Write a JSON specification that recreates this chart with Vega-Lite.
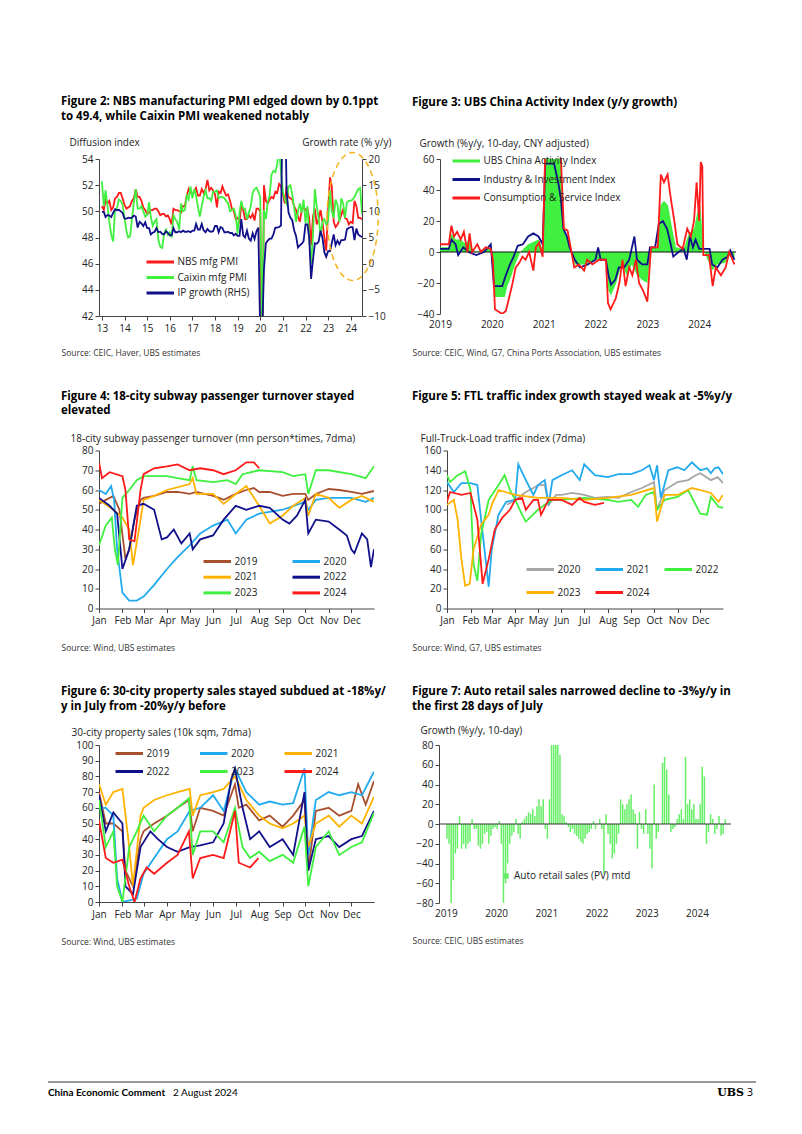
{
"$schema": "https://vega.github.io/schema/vega-lite/v6.json",
"background": "white",
"padding": {"left": 47, "top": 96, "right": 5, "bottom": 5},
"config": {
 "font": "Open Sans",
 "view": {"stroke": null},
 "title": {"anchor": "start", "frame": "group", "fontSize": 11.5, "fontWeight": "bold", "color": "#000000", "lineHeight": 14.5, "font": "Open Sans"},
 "axis": {"labelFontSize": 10, "labelColor": "#222222", "domainColor": "#444444", "tickColor": "#444444", "grid": false, "tickSize": 4, "titleFontWeight": "normal", "titleFontSize": 10, "titleColor": "#222222", "labelPadding": 2, "labelOverlap": false},
 "axisX": {"titleFontSize": 8.5, "titleColor": "#333333", "titleAlign": "left", "titleBaseline": "alphabetic", "labelFlush": false, "labelPadding": 3},
 "axisY": {"titleAngle": 0, "titleAlign": "left", "titleBaseline": "alphabetic"},
 "legend": {"labelFontSize": 10, "labelColor": "#222222", "orient": "none"}
},
"datasets": {
"pmi": [
{"month":"2013-01","nbs":50.4,"caixin":52.3,"ip":9.9},{"month":"2013-02","nbs":50.1,"caixin":50.4,"ip":9.9},{"month":"2013-03","nbs":50.9,"caixin":51.6,"ip":8.9},{"month":"2013-04","nbs":50.6,"caixin":50.4,"ip":9.3},{"month":"2013-05","nbs":50.8,"caixin":49.2,"ip":9.2},{"month":"2013-06","nbs":50.1,"caixin":48.2,"ip":8.9},{"month":"2013-07","nbs":50.3,"caixin":47.7,"ip":9.7},{"month":"2013-08","nbs":51.0,"caixin":50.1,"ip":10.4},{"month":"2013-09","nbs":51.1,"caixin":50.2,"ip":10.2},{"month":"2013-10","nbs":51.4,"caixin":50.9,"ip":10.3},{"month":"2013-11","nbs":51.4,"caixin":50.8,"ip":10.0},{"month":"2013-12","nbs":51.0,"caixin":50.5,"ip":9.7},
{"month":"2014-01","nbs":50.5,"caixin":49.5,"ip":8.6},{"month":"2014-02","nbs":50.2,"caixin":48.5,"ip":8.6},{"month":"2014-03","nbs":50.3,"caixin":48.0,"ip":8.8},{"month":"2014-04","nbs":50.4,"caixin":48.1,"ip":8.7},{"month":"2014-05","nbs":50.8,"caixin":49.4,"ip":8.8},{"month":"2014-06","nbs":51.0,"caixin":50.7,"ip":9.2},{"month":"2014-07","nbs":51.7,"caixin":51.7,"ip":9.0},{"month":"2014-08","nbs":51.1,"caixin":50.2,"ip":6.9},{"month":"2014-09","nbs":51.1,"caixin":50.2,"ip":8.0},{"month":"2014-10","nbs":50.8,"caixin":50.4,"ip":7.7},{"month":"2014-11","nbs":50.3,"caixin":50.0,"ip":7.2},{"month":"2014-12","nbs":50.1,"caixin":49.6,"ip":7.9},
{"month":"2015-01","nbs":49.8,"caixin":49.7,"ip":6.8},{"month":"2015-02","nbs":49.9,"caixin":50.7,"ip":6.8},{"month":"2015-03","nbs":50.1,"caixin":49.6,"ip":5.6},{"month":"2015-04","nbs":50.1,"caixin":48.9,"ip":5.9},{"month":"2015-05","nbs":50.2,"caixin":49.2,"ip":6.1},{"month":"2015-06","nbs":50.2,"caixin":49.4,"ip":6.8},{"month":"2015-07","nbs":50.0,"caixin":47.8,"ip":6.0},{"month":"2015-08","nbs":49.7,"caixin":47.3,"ip":6.1},{"month":"2015-09","nbs":49.8,"caixin":47.2,"ip":5.7},{"month":"2015-10","nbs":49.8,"caixin":48.3,"ip":5.6},{"month":"2015-11","nbs":49.6,"caixin":48.6,"ip":6.2},{"month":"2015-12","nbs":49.7,"caixin":48.2,"ip":5.9},
{"month":"2016-01","nbs":49.4,"caixin":48.4,"ip":5.4},{"month":"2016-02","nbs":49.0,"caixin":48.0,"ip":5.4},{"month":"2016-03","nbs":50.2,"caixin":49.7,"ip":6.8},{"month":"2016-04","nbs":50.1,"caixin":49.4,"ip":6.0},{"month":"2016-05","nbs":50.1,"caixin":49.2,"ip":6.0},{"month":"2016-06","nbs":50.0,"caixin":48.6,"ip":6.2},{"month":"2016-07","nbs":49.9,"caixin":50.6,"ip":6.0},{"month":"2016-08","nbs":50.4,"caixin":50.0,"ip":6.3},{"month":"2016-09","nbs":50.4,"caixin":50.1,"ip":6.1},{"month":"2016-10","nbs":51.2,"caixin":51.2,"ip":6.1},{"month":"2016-11","nbs":51.7,"caixin":50.9,"ip":6.2},{"month":"2016-12","nbs":51.4,"caixin":51.9,"ip":6.0},
{"month":"2017-01","nbs":51.3,"caixin":51.0,"ip":6.3},{"month":"2017-02","nbs":51.6,"caixin":51.7,"ip":6.3},{"month":"2017-03","nbs":51.8,"caixin":51.2,"ip":7.6},{"month":"2017-04","nbs":51.2,"caixin":50.3,"ip":6.5},{"month":"2017-05","nbs":51.2,"caixin":49.6,"ip":6.5},{"month":"2017-06","nbs":51.7,"caixin":50.4,"ip":7.6},{"month":"2017-07","nbs":51.4,"caixin":51.1,"ip":6.4},{"month":"2017-08","nbs":51.7,"caixin":51.6,"ip":6.0},{"month":"2017-09","nbs":52.4,"caixin":51.0,"ip":6.6},{"month":"2017-10","nbs":51.6,"caixin":51.0,"ip":6.2},{"month":"2017-11","nbs":51.8,"caixin":50.8,"ip":6.1},{"month":"2017-12","nbs":51.6,"caixin":51.5,"ip":6.2},
{"month":"2018-01","nbs":51.3,"caixin":51.5,"ip":7.2},{"month":"2018-02","nbs":50.3,"caixin":51.6,"ip":7.2},{"month":"2018-03","nbs":51.5,"caixin":51.0,"ip":6.0},{"month":"2018-04","nbs":51.4,"caixin":51.1,"ip":7.0},{"month":"2018-05","nbs":51.9,"caixin":51.1,"ip":6.8},{"month":"2018-06","nbs":51.5,"caixin":51.0,"ip":6.0},{"month":"2018-07","nbs":51.2,"caixin":50.8,"ip":6.0},{"month":"2018-08","nbs":51.3,"caixin":50.6,"ip":6.1},{"month":"2018-09","nbs":50.8,"caixin":50.0,"ip":5.8},{"month":"2018-10","nbs":50.2,"caixin":50.1,"ip":5.9},{"month":"2018-11","nbs":50.0,"caixin":50.2,"ip":5.4},{"month":"2018-12","nbs":49.4,"caixin":49.7,"ip":5.7},
{"month":"2019-01","nbs":49.5,"caixin":48.3,"ip":5.3},{"month":"2019-02","nbs":49.2,"caixin":49.9,"ip":5.3},{"month":"2019-03","nbs":50.5,"caixin":50.8,"ip":8.5},{"month":"2019-04","nbs":50.1,"caixin":50.2,"ip":5.4},{"month":"2019-05","nbs":49.4,"caixin":50.2,"ip":5.0},{"month":"2019-06","nbs":49.4,"caixin":49.4,"ip":6.3},{"month":"2019-07","nbs":49.7,"caixin":49.9,"ip":4.8},{"month":"2019-08","nbs":49.5,"caixin":50.4,"ip":4.4},{"month":"2019-09","nbs":49.8,"caixin":51.4,"ip":5.8},{"month":"2019-10","nbs":49.3,"caixin":51.7,"ip":4.7},{"month":"2019-11","nbs":50.2,"caixin":51.8,"ip":6.2},{"month":"2019-12","nbs":50.2,"caixin":51.5,"ip":6.9},
{"month":"2020-01","nbs":50.0,"caixin":51.1,"ip":-13.5},{"month":"2020-02","nbs":35.7,"caixin":40.3,"ip":-13.5},{"month":"2020-03","nbs":52.0,"caixin":50.1,"ip":-1.1},{"month":"2020-04","nbs":50.8,"caixin":49.4,"ip":3.9},{"month":"2020-05","nbs":50.6,"caixin":50.7,"ip":4.4},{"month":"2020-06","nbs":50.9,"caixin":51.2,"ip":4.8},{"month":"2020-07","nbs":51.1,"caixin":52.8,"ip":4.8},{"month":"2020-08","nbs":51.0,"caixin":53.1,"ip":5.6},{"month":"2020-09","nbs":51.5,"caixin":53.0,"ip":6.9},{"month":"2020-10","nbs":51.4,"caixin":53.6,"ip":6.9},{"month":"2020-11","nbs":52.1,"caixin":54.9,"ip":7.0},{"month":"2020-12","nbs":51.9,"caixin":53.0,"ip":7.3},
{"month":"2021-01","nbs":51.3,"caixin":51.5,"ip":35.1},{"month":"2021-02","nbs":50.6,"caixin":50.9,"ip":35.1},{"month":"2021-03","nbs":51.9,"caixin":50.6,"ip":14.1},{"month":"2021-04","nbs":51.1,"caixin":51.9,"ip":9.8},{"month":"2021-05","nbs":51.0,"caixin":52.0,"ip":8.8},{"month":"2021-06","nbs":50.9,"caixin":51.3,"ip":8.3},{"month":"2021-07","nbs":50.4,"caixin":50.3,"ip":6.4},{"month":"2021-08","nbs":50.1,"caixin":49.2,"ip":5.3},{"month":"2021-09","nbs":49.6,"caixin":50.0,"ip":3.1},{"month":"2021-10","nbs":49.2,"caixin":50.6,"ip":3.5},{"month":"2021-11","nbs":50.1,"caixin":49.9,"ip":3.8},{"month":"2021-12","nbs":50.3,"caixin":50.9,"ip":4.3},
{"month":"2022-01","nbs":50.1,"caixin":49.1,"ip":7.5},{"month":"2022-02","nbs":50.2,"caixin":50.4,"ip":7.5},{"month":"2022-03","nbs":49.5,"caixin":48.1,"ip":5.0},{"month":"2022-04","nbs":47.4,"caixin":46.0,"ip":-2.9},{"month":"2022-05","nbs":49.6,"caixin":48.1,"ip":0.7},{"month":"2022-06","nbs":50.2,"caixin":51.7,"ip":3.9},{"month":"2022-07","nbs":49.0,"caixin":50.4,"ip":3.8},{"month":"2022-08","nbs":49.4,"caixin":49.5,"ip":4.2},{"month":"2022-09","nbs":50.1,"caixin":48.1,"ip":6.3},{"month":"2022-10","nbs":49.2,"caixin":49.2,"ip":5.0},{"month":"2022-11","nbs":48.0,"caixin":49.4,"ip":2.2},{"month":"2022-12","nbs":47.0,"caixin":49.0,"ip":1.3},
{"month":"2023-01","nbs":50.1,"caixin":49.2,"ip":2.4},{"month":"2023-02","nbs":52.6,"caixin":51.6,"ip":2.4},{"month":"2023-03","nbs":51.9,"caixin":50.0,"ip":3.9},{"month":"2023-04","nbs":49.2,"caixin":49.5,"ip":5.6},{"month":"2023-05","nbs":48.8,"caixin":50.9,"ip":3.5},{"month":"2023-06","nbs":49.0,"caixin":50.5,"ip":4.4},{"month":"2023-07","nbs":49.3,"caixin":49.2,"ip":3.7},{"month":"2023-08","nbs":49.7,"caixin":51.0,"ip":4.5},{"month":"2023-09","nbs":50.2,"caixin":50.6,"ip":4.5},{"month":"2023-10","nbs":49.5,"caixin":49.5,"ip":4.6},{"month":"2023-11","nbs":49.4,"caixin":50.7,"ip":6.6},{"month":"2023-12","nbs":49.0,"caixin":50.8,"ip":6.8},
{"month":"2024-01","nbs":49.2,"caixin":50.8,"ip":7.0},{"month":"2024-02","nbs":49.1,"caixin":50.9,"ip":7.0},{"month":"2024-03","nbs":50.8,"caixin":51.1,"ip":4.5},{"month":"2024-04","nbs":50.4,"caixin":51.4,"ip":6.7},{"month":"2024-05","nbs":49.5,"caixin":51.7,"ip":5.6},{"month":"2024-06","nbs":49.5,"caixin":51.8,"ip":5.3},{"month":"2024-07","nbs":49.4,"caixin":49.8,"ip":5.1}
],
"cai": [
{"s":"act","t":2019.0,"v":3},{"s":"act","t":2019.17,"v":3},{"s":"act","t":2019.22,"v":12},{"s":"act","t":2019.3,"v":8},{"s":"act","t":2019.4,"v":8},{"s":"act","t":2019.5,"v":5},{"s":"act","t":2019.55,"v":8},{"s":"act","t":2019.62,"v":2},{"s":"act","t":2019.7,"v":0},{"s":"act","t":2019.85,"v":2},{"s":"act","t":2019.98,"v":3},{"s":"act","t":2020.03,"v":-10},{"s":"act","t":2020.05,"v":-29},{"s":"act","t":2020.25,"v":-29},{"s":"act","t":2020.3,"v":-22},{"s":"act","t":2020.35,"v":-18},{"s":"act","t":2020.45,"v":-8},{"s":"act","t":2020.55,"v":0},{"s":"act","t":2020.7,"v":5},{"s":"act","t":2020.9,"v":8},{"s":"act","t":2020.98,"v":2},{"s":"act","t":2021.02,"v":60},{"s":"act","t":2021.33,"v":60},{"s":"act","t":2021.38,"v":15},{"s":"act","t":2021.5,"v":5},{"s":"act","t":2021.6,"v":-8},{"s":"act","t":2021.8,"v":-8},{"s":"act","t":2022.0,"v":-5},{"s":"act","t":2022.2,"v":-5},{"s":"act","t":2022.25,"v":-25},{"s":"act","t":2022.3,"v":-28},{"s":"act","t":2022.4,"v":-20},{"s":"act","t":2022.5,"v":-8},{"s":"act","t":2022.6,"v":-15},{"s":"act","t":2022.7,"v":-8},{"s":"act","t":2022.8,"v":-15},{"s":"act","t":2022.9,"v":-18},{"s":"act","t":2023.0,"v":-20},{"s":"act","t":2023.07,"v":3},{"s":"act","t":2023.2,"v":3},{"s":"act","t":2023.25,"v":30},{"s":"act","t":2023.32,"v":33},{"s":"act","t":2023.4,"v":30},{"s":"act","t":2023.48,"v":15},{"s":"act","t":2023.55,"v":3},{"s":"act","t":2023.7,"v":2},{"s":"act","t":2023.8,"v":12},{"s":"act","t":2023.9,"v":15},{"s":"act","t":2023.96,"v":25},{"s":"act","t":2024.02,"v":30},{"s":"act","t":2024.07,"v":10},{"s":"act","t":2024.1,"v":0},{"s":"act","t":2024.25,"v":-12},{"s":"act","t":2024.35,"v":-8},{"s":"act","t":2024.5,"v":-7},{"s":"act","t":2024.6,"v":-2},{"s":"act","t":2024.68,"v":-5},
{"s":"ind","t":2019.0,"v":2},{"s":"ind","t":2019.17,"v":2},{"s":"ind","t":2019.22,"v":8},{"s":"ind","t":2019.3,"v":5},{"s":"ind","t":2019.35,"v":-2},{"s":"ind","t":2019.45,"v":3},{"s":"ind","t":2019.55,"v":0},{"s":"ind","t":2019.7,"v":-2},{"s":"ind","t":2019.85,"v":0},{"s":"ind","t":2019.98,"v":5},{"s":"ind","t":2020.04,"v":-22},{"s":"ind","t":2020.2,"v":-22},{"s":"ind","t":2020.27,"v":-15},{"s":"ind","t":2020.35,"v":-8},{"s":"ind","t":2020.42,"v":-3},{"s":"ind","t":2020.5,"v":4},{"s":"ind","t":2020.6,"v":5},{"s":"ind","t":2020.7,"v":10},{"s":"ind","t":2020.8,"v":12},{"s":"ind","t":2020.9,"v":10},{"s":"ind","t":2020.98,"v":5},{"s":"ind","t":2021.03,"v":57},{"s":"ind","t":2021.2,"v":57},{"s":"ind","t":2021.28,"v":45},{"s":"ind","t":2021.33,"v":35},{"s":"ind","t":2021.38,"v":15},{"s":"ind","t":2021.45,"v":10},{"s":"ind","t":2021.5,"v":3},{"s":"ind","t":2021.6,"v":-5},{"s":"ind","t":2021.7,"v":-10},{"s":"ind","t":2021.85,"v":-8},{"s":"ind","t":2022.0,"v":-5},{"s":"ind","t":2022.05,"v":3},{"s":"ind","t":2022.1,"v":-5},{"s":"ind","t":2022.2,"v":-5},{"s":"ind","t":2022.25,"v":-15},{"s":"ind","t":2022.3,"v":-21},{"s":"ind","t":2022.38,"v":-18},{"s":"ind","t":2022.45,"v":-10},{"s":"ind","t":2022.55,"v":-10},{"s":"ind","t":2022.65,"v":-5},{"s":"ind","t":2022.75,"v":10},{"s":"ind","t":2022.8,"v":-5},{"s":"ind","t":2022.9,"v":-8},{"s":"ind","t":2023.0,"v":-8},{"s":"ind","t":2023.05,"v":3},{"s":"ind","t":2023.15,"v":3},{"s":"ind","t":2023.22,"v":18},{"s":"ind","t":2023.3,"v":20},{"s":"ind","t":2023.38,"v":15},{"s":"ind","t":2023.45,"v":5},{"s":"ind","t":2023.5,"v":-3},{"s":"ind","t":2023.6,"v":0},{"s":"ind","t":2023.7,"v":2},{"s":"ind","t":2023.76,"v":-5},{"s":"ind","t":2023.82,"v":10},{"s":"ind","t":2023.88,"v":3},{"s":"ind","t":2023.93,"v":8},{"s":"ind","t":2024.0,"v":2},{"s":"ind","t":2024.1,"v":2},{"s":"ind","t":2024.2,"v":2},{"s":"ind","t":2024.25,"v":-8},{"s":"ind","t":2024.35,"v":-10},{"s":"ind","t":2024.45,"v":-5},{"s":"ind","t":2024.55,"v":-3},{"s":"ind","t":2024.6,"v":1},{"s":"ind","t":2024.68,"v":-5},
{"s":"con","t":2019.0,"v":5},{"s":"con","t":2019.17,"v":5},{"s":"con","t":2019.22,"v":17},{"s":"con","t":2019.27,"v":10},{"s":"con","t":2019.33,"v":13},{"s":"con","t":2019.4,"v":8},{"s":"con","t":2019.46,"v":13},{"s":"con","t":2019.53,"v":0},{"s":"con","t":2019.57,"v":12},{"s":"con","t":2019.62,"v":0},{"s":"con","t":2019.72,"v":5},{"s":"con","t":2019.79,"v":0},{"s":"con","t":2019.88,"v":3},{"s":"con","t":2019.98,"v":2},{"s":"con","t":2020.02,"v":-5},{"s":"con","t":2020.06,"v":-37},{"s":"con","t":2020.2,"v":-40},{"s":"con","t":2020.27,"v":-38},{"s":"con","t":2020.33,"v":-30},{"s":"con","t":2020.4,"v":-20},{"s":"con","t":2020.46,"v":-10},{"s":"con","t":2020.53,"v":-7},{"s":"con","t":2020.59,"v":-3},{"s":"con","t":2020.65,"v":-5},{"s":"con","t":2020.72,"v":0},{"s":"con","t":2020.8,"v":-12},{"s":"con","t":2020.85,"v":3},{"s":"con","t":2020.91,"v":6},{"s":"con","t":2020.98,"v":-3},{"s":"con","t":2021.03,"v":65},{"s":"con","t":2021.17,"v":65},{"s":"con","t":2021.33,"v":62},{"s":"con","t":2021.39,"v":15},{"s":"con","t":2021.46,"v":14},{"s":"con","t":2021.52,"v":3},{"s":"con","t":2021.59,"v":-10},{"s":"con","t":2021.68,"v":-8},{"s":"con","t":2021.78,"v":-12},{"s":"con","t":2021.84,"v":-5},{"s":"con","t":2021.94,"v":-8},{"s":"con","t":2022.07,"v":-5},{"s":"con","t":2022.2,"v":-5},{"s":"con","t":2022.24,"v":-33},{"s":"con","t":2022.29,"v":-37},{"s":"con","t":2022.39,"v":-30},{"s":"con","t":2022.46,"v":-20},{"s":"con","t":2022.52,"v":-5},{"s":"con","t":2022.58,"v":-22},{"s":"con","t":2022.65,"v":-10},{"s":"con","t":2022.71,"v":-15},{"s":"con","t":2022.78,"v":-5},{"s":"con","t":2022.84,"v":-20},{"s":"con","t":2022.92,"v":-25},{"s":"con","t":2023.0,"v":-32},{"s":"con","t":2023.07,"v":3},{"s":"con","t":2023.2,"v":3},{"s":"con","t":2023.26,"v":50},{"s":"con","t":2023.32,"v":45},{"s":"con","t":2023.39,"v":50},{"s":"con","t":2023.45,"v":35},{"s":"con","t":2023.52,"v":20},{"s":"con","t":2023.58,"v":5},{"s":"con","t":2023.68,"v":2},{"s":"con","t":2023.77,"v":15},{"s":"con","t":2023.84,"v":10},{"s":"con","t":2023.9,"v":20},{"s":"con","t":2023.95,"v":45},{"s":"con","t":2024.0,"v":20},{"s":"con","t":2024.03,"v":58},{"s":"con","t":2024.06,"v":55},{"s":"con","t":2024.08,"v":-2},{"s":"con","t":2024.19,"v":-2},{"s":"con","t":2024.26,"v":-22},{"s":"con","t":2024.32,"v":-10},{"s":"con","t":2024.42,"v":-15},{"s":"con","t":2024.51,"v":-10},{"s":"con","t":2024.58,"v":0},{"s":"con","t":2024.64,"v":-5},{"s":"con","t":2024.68,"v":-8}
],
"subway": [
{"year":"2019","day":1,"value":53},{"year":"2019","day":10,"value":55},{"year":"2019","day":20,"value":57},{"year":"2019","day":28,"value":50},{"year":"2019","day":36,"value":25},{"year":"2019","day":41,"value":30},{"year":"2019","day":48,"value":45},{"year":"2019","day":56,"value":55},{"year":"2019","day":60,"value":56},{"year":"2019","day":74,"value":57},{"year":"2019","day":91,"value":59},{"year":"2019","day":105,"value":59},{"year":"2019","day":121,"value":58},{"year":"2019","day":130,"value":59},{"year":"2019","day":152,"value":57},{"year":"2019","day":160,"value":56},{"year":"2019","day":166,"value":55},{"year":"2019","day":182,"value":58},{"year":"2019","day":196,"value":60},{"year":"2019","day":206,"value":61},{"year":"2019","day":213,"value":59},{"year":"2019","day":227,"value":59},{"year":"2019","day":244,"value":57},{"year":"2019","day":258,"value":58},{"year":"2019","day":274,"value":58},{"year":"2019","day":278,"value":55},{"year":"2019","day":288,"value":58},{"year":"2019","day":305,"value":60.5},{"year":"2019","day":319,"value":60},{"year":"2019","day":335,"value":59},{"year":"2019","day":349,"value":58},{"year":"2019","day":365,"value":59.5},
{"year":"2020","day":1,"value":60},{"year":"2020","day":10,"value":58},{"year":"2020","day":17,"value":62},{"year":"2020","day":21,"value":55},{"year":"2020","day":25,"value":30},{"year":"2020","day":32,"value":8},{"year":"2020","day":41,"value":4},{"year":"2020","day":51,"value":4},{"year":"2020","day":60,"value":6},{"year":"2020","day":74,"value":12},{"year":"2020","day":91,"value":20},{"year":"2020","day":105,"value":26},{"year":"2020","day":121,"value":32},{"year":"2020","day":135,"value":38},{"year":"2020","day":152,"value":42},{"year":"2020","day":171,"value":45},{"year":"2020","day":182,"value":38},{"year":"2020","day":196,"value":45},{"year":"2020","day":213,"value":48},{"year":"2020","day":244,"value":50},{"year":"2020","day":274,"value":54},{"year":"2020","day":278,"value":50},{"year":"2020","day":288,"value":55},{"year":"2020","day":305,"value":56},{"year":"2020","day":335,"value":56},{"year":"2020","day":354,"value":54},{"year":"2020","day":365,"value":56},
{"year":"2021","day":1,"value":55},{"year":"2021","day":20,"value":50},{"year":"2021","day":32,"value":46},{"year":"2021","day":41,"value":40},{"year":"2021","day":46,"value":22},{"year":"2021","day":56,"value":45},{"year":"2021","day":60,"value":55},{"year":"2021","day":74,"value":57},{"year":"2021","day":91,"value":60},{"year":"2021","day":121,"value":63},{"year":"2021","day":125,"value":66},{"year":"2021","day":130,"value":58},{"year":"2021","day":152,"value":58},{"year":"2021","day":166,"value":53},{"year":"2021","day":182,"value":58},{"year":"2021","day":196,"value":62},{"year":"2021","day":213,"value":52},{"year":"2021","day":227,"value":43},{"year":"2021","day":244,"value":47},{"year":"2021","day":258,"value":52},{"year":"2021","day":274,"value":56},{"year":"2021","day":278,"value":47},{"year":"2021","day":288,"value":58},{"year":"2021","day":305,"value":56},{"year":"2021","day":319,"value":51},{"year":"2021","day":335,"value":55},{"year":"2021","day":349,"value":57},{"year":"2021","day":365,"value":54},
{"year":"2022","day":1,"value":56},{"year":"2022","day":15,"value":52},{"year":"2022","day":25,"value":48},{"year":"2022","day":32,"value":20},{"year":"2022","day":41,"value":30},{"year":"2022","day":51,"value":52},{"year":"2022","day":60,"value":53},{"year":"2022","day":74,"value":50},{"year":"2022","day":84,"value":35},{"year":"2022","day":91,"value":36},{"year":"2022","day":100,"value":40},{"year":"2022","day":110,"value":33},{"year":"2022","day":121,"value":38},{"year":"2022","day":125,"value":30},{"year":"2022","day":135,"value":35},{"year":"2022","day":152,"value":37},{"year":"2022","day":166,"value":45},{"year":"2022","day":182,"value":52},{"year":"2022","day":196,"value":50},{"year":"2022","day":213,"value":52},{"year":"2022","day":227,"value":51},{"year":"2022","day":244,"value":45},{"year":"2022","day":253,"value":43},{"year":"2022","day":263,"value":47},{"year":"2022","day":274,"value":55},{"year":"2022","day":278,"value":38},{"year":"2022","day":288,"value":45},{"year":"2022","day":305,"value":44},{"year":"2022","day":319,"value":40},{"year":"2022","day":329,"value":37},{"year":"2022","day":335,"value":30},{"year":"2022","day":339,"value":28},{"year":"2022","day":349,"value":38},{"year":"2022","day":356,"value":35},{"year":"2022","day":361,"value":21},{"year":"2022","day":365,"value":30},
{"year":"2023","day":1,"value":32},{"year":"2023","day":10,"value":42},{"year":"2023","day":18,"value":46},{"year":"2023","day":22,"value":30},{"year":"2023","day":26,"value":22},{"year":"2023","day":32,"value":56},{"year":"2023","day":41,"value":60},{"year":"2023","day":51,"value":65},{"year":"2023","day":60,"value":67},{"year":"2023","day":91,"value":67},{"year":"2023","day":105,"value":66},{"year":"2023","day":121,"value":65},{"year":"2023","day":125,"value":72},{"year":"2023","day":130,"value":65},{"year":"2023","day":152,"value":64},{"year":"2023","day":171,"value":65},{"year":"2023","day":182,"value":63},{"year":"2023","day":191,"value":68},{"year":"2023","day":213,"value":70},{"year":"2023","day":244,"value":69},{"year":"2023","day":258,"value":67},{"year":"2023","day":274,"value":68},{"year":"2023","day":278,"value":58},{"year":"2023","day":288,"value":70},{"year":"2023","day":305,"value":70},{"year":"2023","day":335,"value":68},{"year":"2023","day":354,"value":66},{"year":"2023","day":365,"value":72},
{"year":"2024","day":1,"value":74},{"year":"2024","day":5,"value":66},{"year":"2024","day":15,"value":69},{"year":"2024","day":32,"value":67},{"year":"2024","day":36,"value":60},{"year":"2024","day":41,"value":35},{"year":"2024","day":48,"value":34},{"year":"2024","day":56,"value":60},{"year":"2024","day":60,"value":68},{"year":"2024","day":74,"value":71},{"year":"2024","day":91,"value":72},{"year":"2024","day":105,"value":73},{"year":"2024","day":121,"value":70},{"year":"2024","day":135,"value":71},{"year":"2024","day":152,"value":70},{"year":"2024","day":166,"value":68},{"year":"2024","day":182,"value":70},{"year":"2024","day":196,"value":74},{"year":"2024","day":206,"value":74},{"year":"2024","day":213,"value":71}
],
"ftl": [
{"year":"2020","day":80,"value":105},{"year":"2020","day":91,"value":110},{"year":"2020","day":105,"value":118},{"year":"2020","day":115,"value":122},{"year":"2020","day":121,"value":125},{"year":"2020","day":130,"value":125},{"year":"2020","day":135,"value":105},{"year":"2020","day":145,"value":115},{"year":"2020","day":152,"value":115},{"year":"2020","day":166,"value":117},{"year":"2020","day":182,"value":115},{"year":"2020","day":196,"value":112},{"year":"2020","day":213,"value":113},{"year":"2020","day":227,"value":112},{"year":"2020","day":244,"value":118},{"year":"2020","day":258,"value":122},{"year":"2020","day":274,"value":128},{"year":"2020","day":278,"value":100},{"year":"2020","day":288,"value":120},{"year":"2020","day":305,"value":128},{"year":"2020","day":319,"value":130},{"year":"2020","day":329,"value":135},{"year":"2020","day":335,"value":137},{"year":"2020","day":349,"value":130},{"year":"2020","day":358,"value":133},{"year":"2020","day":365,"value":127},
{"year":"2021","day":1,"value":128},{"year":"2021","day":10,"value":118},{"year":"2021","day":20,"value":127},{"year":"2021","day":32,"value":127},{"year":"2021","day":41,"value":125},{"year":"2021","day":46,"value":90},{"year":"2021","day":56,"value":22},{"year":"2021","day":60,"value":60},{"year":"2021","day":69,"value":95},{"year":"2021","day":79,"value":108},{"year":"2021","day":91,"value":110},{"year":"2021","day":95,"value":146},{"year":"2021","day":105,"value":130},{"year":"2021","day":115,"value":115},{"year":"2021","day":121,"value":125},{"year":"2021","day":130,"value":130},{"year":"2021","day":135,"value":105},{"year":"2021","day":140,"value":130},{"year":"2021","day":152,"value":135},{"year":"2021","day":166,"value":140},{"year":"2021","day":176,"value":130},{"year":"2021","day":182,"value":146},{"year":"2021","day":196,"value":135},{"year":"2021","day":213,"value":133},{"year":"2021","day":227,"value":136},{"year":"2021","day":244,"value":136},{"year":"2021","day":258,"value":140},{"year":"2021","day":268,"value":145},{"year":"2021","day":274,"value":130},{"year":"2021","day":278,"value":145},{"year":"2021","day":283,"value":112},{"year":"2021","day":293,"value":140},{"year":"2021","day":305,"value":143},{"year":"2021","day":314,"value":140},{"year":"2021","day":324,"value":148},{"year":"2021","day":335,"value":140},{"year":"2021","day":344,"value":142},{"year":"2021","day":349,"value":137},{"year":"2021","day":354,"value":142},{"year":"2021","day":359,"value":143},{"year":"2021","day":365,"value":136},
{"year":"2022","day":1,"value":135},{"year":"2022","day":5,"value":128},{"year":"2022","day":15,"value":135},{"year":"2022","day":25,"value":139},{"year":"2022","day":32,"value":120},{"year":"2022","day":36,"value":45},{"year":"2022","day":41,"value":28},{"year":"2022","day":46,"value":75},{"year":"2022","day":56,"value":110},{"year":"2022","day":69,"value":125},{"year":"2022","day":77,"value":135},{"year":"2022","day":84,"value":120},{"year":"2022","day":91,"value":110},{"year":"2022","day":100,"value":95},{"year":"2022","day":105,"value":88},{"year":"2022","day":121,"value":100},{"year":"2022","day":130,"value":105},{"year":"2022","day":140,"value":110},{"year":"2022","day":152,"value":110},{"year":"2022","day":182,"value":112},{"year":"2022","day":213,"value":110},{"year":"2022","day":227,"value":108},{"year":"2022","day":244,"value":110},{"year":"2022","day":253,"value":103},{"year":"2022","day":263,"value":115},{"year":"2022","day":274,"value":118},{"year":"2022","day":278,"value":100},{"year":"2022","day":288,"value":110},{"year":"2022","day":305,"value":113},{"year":"2022","day":319,"value":120},{"year":"2022","day":335,"value":96},{"year":"2022","day":344,"value":95},{"year":"2022","day":349,"value":113},{"year":"2022","day":359,"value":103},{"year":"2022","day":365,"value":102},
{"year":"2023","day":1,"value":105},{"year":"2023","day":10,"value":110},{"year":"2023","day":15,"value":90},{"year":"2023","day":20,"value":50},{"year":"2023","day":25,"value":23},{"year":"2023","day":31,"value":25},{"year":"2023","day":36,"value":60},{"year":"2023","day":46,"value":85},{"year":"2023","day":56,"value":95},{"year":"2023","day":60,"value":105},{"year":"2023","day":69,"value":120},{"year":"2023","day":91,"value":115},{"year":"2023","day":121,"value":112},{"year":"2023","day":152,"value":112},{"year":"2023","day":182,"value":110},{"year":"2023","day":213,"value":112},{"year":"2023","day":244,"value":115},{"year":"2023","day":274,"value":122},{"year":"2023","day":278,"value":88},{"year":"2023","day":288,"value":115},{"year":"2023","day":305,"value":115},{"year":"2023","day":324,"value":122},{"year":"2023","day":335,"value":120},{"year":"2023","day":349,"value":117},{"year":"2023","day":359,"value":108},{"year":"2023","day":365,"value":115},
{"year":"2024","day":1,"value":108},{"year":"2024","day":5,"value":118},{"year":"2024","day":20,"value":115},{"year":"2024","day":32,"value":117},{"year":"2024","day":41,"value":90},{"year":"2024","day":48,"value":25},{"year":"2024","day":56,"value":50},{"year":"2024","day":64,"value":80},{"year":"2024","day":74,"value":92},{"year":"2024","day":84,"value":100},{"year":"2024","day":91,"value":110},{"year":"2024","day":100,"value":112},{"year":"2024","day":105,"value":100},{"year":"2024","day":115,"value":110},{"year":"2024","day":121,"value":110},{"year":"2024","day":125,"value":95},{"year":"2024","day":135,"value":110},{"year":"2024","day":152,"value":110},{"year":"2024","day":166,"value":105},{"year":"2024","day":176,"value":112},{"year":"2024","day":182,"value":108},{"year":"2024","day":196,"value":105},{"year":"2024","day":208,"value":107}
],
"prop": [
{"year":"2019","day":1,"value":70},{"year":"2019","day":10,"value":50},{"year":"2019","day":20,"value":50},{"year":"2019","day":32,"value":45},{"year":"2019","day":36,"value":20},{"year":"2019","day":46,"value":10},{"year":"2019","day":56,"value":40},{"year":"2019","day":60,"value":45},{"year":"2019","day":74,"value":50},{"year":"2019","day":91,"value":55},{"year":"2019","day":105,"value":60},{"year":"2019","day":120,"value":65},{"year":"2019","day":125,"value":45},{"year":"2019","day":135,"value":60},{"year":"2019","day":152,"value":58},{"year":"2019","day":166,"value":55},{"year":"2019","day":181,"value":75},{"year":"2019","day":186,"value":60},{"year":"2019","day":196,"value":62},{"year":"2019","day":213,"value":52},{"year":"2019","day":227,"value":55},{"year":"2019","day":244,"value":48},{"year":"2019","day":258,"value":55},{"year":"2019","day":273,"value":65},{"year":"2019","day":278,"value":20},{"year":"2019","day":288,"value":58},{"year":"2019","day":305,"value":60},{"year":"2019","day":319,"value":55},{"year":"2019","day":335,"value":58},{"year":"2019","day":344,"value":75},{"year":"2019","day":354,"value":62},{"year":"2019","day":365,"value":77},
{"year":"2020","day":1,"value":60},{"year":"2020","day":10,"value":60},{"year":"2020","day":20,"value":55},{"year":"2020","day":25,"value":15},{"year":"2020","day":32,"value":0},{"year":"2020","day":51,"value":2},{"year":"2020","day":60,"value":18},{"year":"2020","day":74,"value":28},{"year":"2020","day":91,"value":40},{"year":"2020","day":105,"value":45},{"year":"2020","day":121,"value":58},{"year":"2020","day":135,"value":60},{"year":"2020","day":152,"value":68},{"year":"2020","day":166,"value":58},{"year":"2020","day":181,"value":85},{"year":"2020","day":196,"value":70},{"year":"2020","day":213,"value":62},{"year":"2020","day":227,"value":64},{"year":"2020","day":244,"value":62},{"year":"2020","day":258,"value":63},{"year":"2020","day":273,"value":85},{"year":"2020","day":278,"value":30},{"year":"2020","day":288,"value":65},{"year":"2020","day":305,"value":70},{"year":"2020","day":319,"value":68},{"year":"2020","day":335,"value":70},{"year":"2020","day":349,"value":68},{"year":"2020","day":365,"value":83},
{"year":"2021","day":1,"value":75},{"year":"2021","day":10,"value":62},{"year":"2021","day":20,"value":70},{"year":"2021","day":32,"value":72},{"year":"2021","day":41,"value":35},{"year":"2021","day":46,"value":10},{"year":"2021","day":56,"value":55},{"year":"2021","day":60,"value":60},{"year":"2021","day":74,"value":65},{"year":"2021","day":91,"value":68},{"year":"2021","day":105,"value":70},{"year":"2021","day":121,"value":72},{"year":"2021","day":125,"value":55},{"year":"2021","day":135,"value":68},{"year":"2021","day":152,"value":70},{"year":"2021","day":166,"value":72},{"year":"2021","day":181,"value":80},{"year":"2021","day":196,"value":65},{"year":"2021","day":213,"value":55},{"year":"2021","day":227,"value":50},{"year":"2021","day":244,"value":47},{"year":"2021","day":258,"value":50},{"year":"2021","day":273,"value":55},{"year":"2021","day":278,"value":35},{"year":"2021","day":288,"value":50},{"year":"2021","day":305,"value":55},{"year":"2021","day":319,"value":48},{"year":"2021","day":335,"value":55},{"year":"2021","day":349,"value":50},{"year":"2021","day":365,"value":67},
{"year":"2022","day":1,"value":68},{"year":"2022","day":10,"value":45},{"year":"2022","day":20,"value":57},{"year":"2022","day":32,"value":50},{"year":"2022","day":36,"value":10},{"year":"2022","day":46,"value":5},{"year":"2022","day":56,"value":35},{"year":"2022","day":69,"value":45},{"year":"2022","day":79,"value":40},{"year":"2022","day":91,"value":35},{"year":"2022","day":105,"value":32},{"year":"2022","day":121,"value":35},{"year":"2022","day":135,"value":36},{"year":"2022","day":152,"value":38},{"year":"2022","day":166,"value":50},{"year":"2022","day":176,"value":78},{"year":"2022","day":181,"value":85},{"year":"2022","day":191,"value":60},{"year":"2022","day":201,"value":40},{"year":"2022","day":213,"value":45},{"year":"2022","day":227,"value":35},{"year":"2022","day":244,"value":40},{"year":"2022","day":258,"value":30},{"year":"2022","day":273,"value":70},{"year":"2022","day":278,"value":20},{"year":"2022","day":288,"value":40},{"year":"2022","day":305,"value":42},{"year":"2022","day":319,"value":35},{"year":"2022","day":335,"value":40},{"year":"2022","day":349,"value":42},{"year":"2022","day":365,"value":58},
{"year":"2023","day":1,"value":65},{"year":"2023","day":10,"value":35},{"year":"2023","day":20,"value":45},{"year":"2023","day":25,"value":10},{"year":"2023","day":32,"value":0},{"year":"2023","day":41,"value":35},{"year":"2023","day":51,"value":45},{"year":"2023","day":60,"value":55},{"year":"2023","day":74,"value":45},{"year":"2023","day":91,"value":55},{"year":"2023","day":105,"value":60},{"year":"2023","day":120,"value":66},{"year":"2023","day":125,"value":30},{"year":"2023","day":135,"value":45},{"year":"2023","day":152,"value":45},{"year":"2023","day":166,"value":38},{"year":"2023","day":181,"value":60},{"year":"2023","day":191,"value":35},{"year":"2023","day":201,"value":28},{"year":"2023","day":213,"value":32},{"year":"2023","day":227,"value":26},{"year":"2023","day":244,"value":30},{"year":"2023","day":258,"value":25},{"year":"2023","day":273,"value":48},{"year":"2023","day":278,"value":10},{"year":"2023","day":288,"value":35},{"year":"2023","day":305,"value":45},{"year":"2023","day":319,"value":30},{"year":"2023","day":335,"value":35},{"year":"2023","day":349,"value":38},{"year":"2023","day":365,"value":57},
{"year":"2024","day":1,"value":52},{"year":"2024","day":10,"value":28},{"year":"2024","day":20,"value":25},{"year":"2024","day":32,"value":27},{"year":"2024","day":41,"value":10},{"year":"2024","day":48,"value":0},{"year":"2024","day":56,"value":15},{"year":"2024","day":64,"value":22},{"year":"2024","day":74,"value":18},{"year":"2024","day":91,"value":25},{"year":"2024","day":105,"value":30},{"year":"2024","day":120,"value":45},{"year":"2024","day":125,"value":15},{"year":"2024","day":135,"value":28},{"year":"2024","day":152,"value":30},{"year":"2024","day":166,"value":28},{"year":"2024","day":181,"value":58},{"year":"2024","day":186,"value":25},{"year":"2024","day":201,"value":22},{"year":"2024","day":212,"value":28}
],
"auto": [
{"t":2019.021,"v":-15},{"t":2019.063,"v":-20},{"t":2019.104,"v":-80},{"t":2019.146,"v":-57},{"t":2019.188,"v":-30},{"t":2019.229,"v":-25},{"t":2019.271,"v":8},{"t":2019.313,"v":-25},{"t":2019.354,"v":-20},{"t":2019.396,"v":-25},{"t":2019.438,"v":-20},{"t":2019.479,"v":-18},{"t":2019.521,"v":5},{"t":2019.563,"v":-5},{"t":2019.604,"v":-5},{"t":2019.646,"v":-22},{"t":2019.688,"v":-25},{"t":2019.729,"v":-20},{"t":2019.771,"v":-10},{"t":2019.813,"v":-8},{"t":2019.854,"v":-20},{"t":2019.896,"v":-12},{"t":2019.938,"v":-5},{"t":2019.979,"v":-3},
{"t":2020.021,"v":-5},{"t":2020.063,"v":3},{"t":2020.104,"v":-20},{"t":2020.146,"v":-80},{"t":2020.188,"v":-60},{"t":2020.229,"v":-40},{"t":2020.271,"v":-20},{"t":2020.313,"v":-12},{"t":2020.354,"v":-8},{"t":2020.396,"v":5},{"t":2020.438,"v":-10},{"t":2020.479,"v":-15},{"t":2020.521,"v":2},{"t":2020.563,"v":5},{"t":2020.604,"v":8},{"t":2020.646,"v":12},{"t":2020.688,"v":10},{"t":2020.729,"v":15},{"t":2020.771,"v":8},{"t":2020.813,"v":18},{"t":2020.854,"v":25},{"t":2020.896,"v":18},{"t":2020.938,"v":25},{"t":2020.979,"v":-5},
{"t":2021.021,"v":-15},{"t":2021.063,"v":25},{"t":2021.104,"v":80},{"t":2021.146,"v":80},{"t":2021.188,"v":80},{"t":2021.229,"v":80},{"t":2021.271,"v":70},{"t":2021.313,"v":10},{"t":2021.354,"v":8},{"t":2021.396,"v":2},{"t":2021.438,"v":-3},{"t":2021.479,"v":-8},{"t":2021.521,"v":-5},{"t":2021.563,"v":-10},{"t":2021.604,"v":-12},{"t":2021.646,"v":-15},{"t":2021.688,"v":-18},{"t":2021.729,"v":-20},{"t":2021.771,"v":-15},{"t":2021.813,"v":-10},{"t":2021.854,"v":-8},{"t":2021.896,"v":-5},{"t":2021.938,"v":3},{"t":2021.979,"v":-5},
{"t":2022.021,"v":0},{"t":2022.063,"v":5},{"t":2022.104,"v":-5},{"t":2022.146,"v":-50},{"t":2022.188,"v":10},{"t":2022.229,"v":-10},{"t":2022.271,"v":-20},{"t":2022.313,"v":-35},{"t":2022.354,"v":-30},{"t":2022.396,"v":-20},{"t":2022.438,"v":-10},{"t":2022.479,"v":25},{"t":2022.521,"v":20},{"t":2022.563,"v":15},{"t":2022.604,"v":20},{"t":2022.646,"v":25},{"t":2022.688,"v":30},{"t":2022.729,"v":15},{"t":2022.771,"v":10},{"t":2022.813,"v":-25},{"t":2022.854,"v":12},{"t":2022.896,"v":-5},{"t":2022.938,"v":-10},{"t":2022.979,"v":15},
{"t":2023.021,"v":-10},{"t":2023.063,"v":-25},{"t":2023.104,"v":-45},{"t":2023.146,"v":40},{"t":2023.188,"v":-15},{"t":2023.229,"v":-8},{"t":2023.271,"v":0},{"t":2023.313,"v":62},{"t":2023.354,"v":68},{"t":2023.396,"v":55},{"t":2023.438,"v":30},{"t":2023.479,"v":-8},{"t":2023.521,"v":-5},{"t":2023.563,"v":-3},{"t":2023.604,"v":5},{"t":2023.646,"v":10},{"t":2023.688,"v":15},{"t":2023.729,"v":5},{"t":2023.771,"v":68},{"t":2023.813,"v":20},{"t":2023.854,"v":25},{"t":2023.896,"v":15},{"t":2023.938,"v":20},{"t":2023.979,"v":5},
{"t":2024.021,"v":5},{"t":2024.063,"v":20},{"t":2024.104,"v":58},{"t":2024.146,"v":48},{"t":2024.188,"v":-20},{"t":2024.229,"v":-8},{"t":2024.271,"v":10},{"t":2024.313,"v":5},{"t":2024.354,"v":-10},{"t":2024.396,"v":-5},{"t":2024.438,"v":8},{"t":2024.479,"v":-12},{"t":2024.521,"v":-10},{"t":2024.563,"v":5}
]
},
"resolve": {"scale": {"color": "independent"}, "legend": {"color": "independent"}},
"vconcat": [
{"resolve": {"scale": {"color": "independent"}, "legend": {"color": "independent"}},
 "vconcat": [
 {"hconcat": [
  {
   "width": 263, "height": 157,
   "title": {"text": ["Figure 2: NBS manufacturing PMI edged down by 0.1ppt", "to 49.4, while Caixin PMI weakened notably"], "dx": -38, "offset": 15},
   "encoding": {"x": {"field": "month", "type": "temporal", "scale": {"type": "utc", "domain": ["2012-11-15", "2024-07-01"]}, "axis": {"format": "%y", "tickCount": {"interval": "year", "step": 1}, "title": "Source: CEIC, Haver, UBS estimates", "titleX": -38, "titleY": 39}}},
   "layer": [
    {"data": {"name": "pmi"}, "transform": [{"fold": ["nbs", "caixin"], "as": ["series", "value"]}],
     "mark": {"type": "line", "strokeWidth": 1.8, "clip": true},
     "encoding": {
      "y": {"field": "value", "type": "quantitative", "scale": {"domain": [42, 54], "nice": false, "zero": false}, "axis": {"values": [42, 44, 46, 48, 50, 52, 54], "title": "Diffusion index", "titleX": -30, "titleY": -14}},
      "color": {"field": "series", "type": "nominal", "scale": {"domain": ["nbs", "caixin", "ip"], "range": ["#ff1a1a", "#3ff03f", "#10108a"]},
       "legend": {"title": null, "orient": "none", "legendX": 46, "legendY": 96, "symbolType": "M-1,0L4,0", "symbolSize": 121, "symbolStrokeWidth": 3, "labelOffset": 18.5, "rowPadding": 2.5, "labelExpr": "datum.label == 'nbs' ? 'NBS mfg PMI' : datum.label == 'caixin' ? 'Caixin mfg PMI' : 'IP growth (RHS)'"}}
     }},
    {"data": {"name": "pmi"}, "transform": [{"fold": ["ip"], "as": ["series", "value"]}],
     "mark": {"type": "line", "strokeWidth": 1.8, "clip": true},
     "encoding": {
      "y": {"field": "value", "type": "quantitative", "scale": {"domain": [-10, 20], "nice": false, "zero": false}, "axis": {"orient": "right", "values": [-10, -5, 0, 5, 10, 15, 20], "title": "Growth rate (% y/y)", "titleAlign": "right", "titleX": 29, "titleY": -14}},
      "color": {"field": "series", "type": "nominal"}
     }},
    {"data": {"values": [{"month": "2024-02", "value": 49.6}]},
     "mark": {"type": "point", "shape": "M-0.4,0C-0.4,-0.55,-0.22,-1,0,-1C0.22,-1,0.4,-0.55,0.4,0C0.4,0.55,0.22,1,0,1C-0.22,1,-0.4,0.55,-0.4,0Z", "size": 16384, "filled": false, "stroke": "#f5b21b", "strokeWidth": 1.5, "strokeDash": [6, 4], "opacity": 1},
     "encoding": {"y": {"field": "value", "type": "quantitative", "scale": {"domain": [42, 54], "nice": false, "zero": false}, "axis": null}}}
   ],
   "resolve": {"scale": {"y": "independent"}}
  },
  {
   "width": 296, "height": 155,
   "title": {"text": "Figure 3: UBS China Activity Index (y/y growth)", "dx": -28, "offset": 30},
   "layer": [
    {"data": {"name": "cai"}, "transform": [{"filter": "datum.s === 'act'"}],
     "mark": {"type": "area", "clip": true, "opacity": 1},
     "encoding": {
      "x": {"field": "t", "type": "quantitative", "scale": {"domain": [2019, 2024.71], "nice": false, "zero": false}, "axis": {"values": [2019, 2020, 2021, 2022, 2023, 2024], "format": "d", "domain": false, "ticks": false, "labelPadding": 5, "title": "Source: CEIC, Wind, G7, China Ports Association, UBS estimates", "titleX": -28, "titleY": 41}},
      "y": {"field": "v", "type": "quantitative", "scale": {"domain": [-40, 60], "nice": false}, "axis": {"values": [-40, -20, 0, 20, 40, 60], "title": "Growth (%y/y, 10-day, CNY adjusted)", "titleX": -21, "titleY": -13}},
      "color": {"field": "s", "type": "nominal", "scale": {"domain": ["act", "ind", "con"], "range": ["#3ff03f", "#10108a", "#ff1a1a"]},
       "legend": {"title": null, "orient": "none", "legendX": 11, "legendY": -5, "symbolType": "M-1,0L4,0", "symbolSize": 121, "symbolStrokeWidth": 3, "labelOffset": 18.5, "rowPadding": 5.5, "labelExpr": "datum.label == 'act' ? 'UBS China Activity Index' : datum.label == 'ind' ? 'Industry & Investment Index' : 'Consumption & Service Index'",
        "encode": {"symbols": {"update": {"strokeWidth": {"signal": "datum.value == 'act' ? 7 : 3"}}}}}}
     }},
    {"data": {"values": [{}]}, "mark": {"type": "rule", "color": "#111111", "strokeWidth": 1},
     "encoding": {"y": {"datum": 0, "type": "quantitative", "axis": {"values": [-40, -20, 0, 20, 40, 60], "title": "Growth (%y/y, 10-day, CNY adjusted)", "titleX": -21, "titleY": -13}}}},
    {"data": {"name": "cai"}, "transform": [{"filter": "datum.s === 'ind'"}],
     "mark": {"type": "line", "strokeWidth": 1.8, "clip": true},
     "encoding": {
      "x": {"field": "t", "type": "quantitative", "scale": {"domain": [2019, 2024.71], "nice": false, "zero": false}, "axis": {"values": [2019, 2020, 2021, 2022, 2023, 2024], "format": "d", "domain": false, "ticks": false, "labelPadding": 5, "title": "Source: CEIC, Wind, G7, China Ports Association, UBS estimates", "titleX": -28, "titleY": 41}},
      "y": {"field": "v", "type": "quantitative", "axis": {"values": [-40, -20, 0, 20, 40, 60], "title": "Growth (%y/y, 10-day, CNY adjusted)", "titleX": -21, "titleY": -13}},
      "color": {"field": "s", "type": "nominal"}
     }},
    {"data": {"name": "cai"}, "transform": [{"filter": "datum.s === 'con'"}],
     "mark": {"type": "line", "strokeWidth": 1.8, "clip": true},
     "encoding": {
      "x": {"field": "t", "type": "quantitative", "scale": {"domain": [2019, 2024.71], "nice": false, "zero": false}, "axis": {"values": [2019, 2020, 2021, 2022, 2023, 2024], "format": "d", "domain": false, "ticks": false, "labelPadding": 5, "title": "Source: CEIC, Wind, G7, China Ports Association, UBS estimates", "titleX": -28, "titleY": 41}},
      "y": {"field": "v", "type": "quantitative", "axis": {"values": [-40, -20, 0, 20, 40, 60], "title": "Growth (%y/y, 10-day, CNY adjusted)", "titleX": -21, "titleY": -13}},
      "color": {"field": "s", "type": "nominal"}
     }}
   ]
  }
 ], "bounds": "flush", "spacing": 78, "resolve": {"scale": {"color": "independent"}, "legend": {"color": "independent"}}},
 {"hconcat": [
  {
   "width": 275, "height": 158,
   "title": {"text": ["Figure 4: 18-city subway passenger turnover stayed", "elevated"], "dx": -38, "offset": 17},
   "data": {"name": "subway"},
   "mark": {"type": "line", "strokeWidth": 1.8, "clip": true},
   "encoding": {
    "x": {"field": "day", "type": "quantitative", "scale": {"domain": [1, 365], "nice": false, "zero": false}, "axis": {"values": [1, 32, 60, 91, 121, 152, 182, 213, 244, 274, 305, 335], "labelExpr": "timeFormat(datetime(2001, 0, datum.value), '%b')", "title": "Source: Wind, UBS estimates", "titleX": -38, "titleY": 42}},
    "y": {"field": "value", "type": "quantitative", "scale": {"domain": [0, 80], "nice": false}, "axis": {"values": [0, 10, 20, 30, 40, 50, 60, 70, 80], "title": "18-city subway passenger turnover (mn person*times, 7dma)", "titleX": -29, "titleY": -9}},
    "color": {"field": "year", "type": "nominal", "scale": {"domain": ["2019", "2020", "2021", "2022", "2023", "2024"], "range": ["#a9502f", "#22aaee", "#ffb300", "#10108a", "#3ff03f", "#ff1a1a"]},
     "legend": {"title": null, "orient": "none", "direction": "horizontal", "legendX": 103, "legendY": 104, "columns": 2, "columnPadding": 28, "rowPadding": 2.7, "symbolType": "M-1,0L4,0", "symbolSize": 121, "symbolStrokeWidth": 3, "labelOffset": 18.5}}
   }
  },
  {
   "width": 276, "height": 158,
   "title": {"text": "Figure 5: FTL traffic index growth stayed weak at -5%y/y", "dx": -35, "offset": 31},
   "data": {"name": "ftl"},
   "mark": {"type": "line", "strokeWidth": 1.8, "clip": true},
   "encoding": {
    "x": {"field": "day", "type": "quantitative", "scale": {"domain": [1, 365], "nice": false, "zero": false}, "axis": {"values": [1, 32, 60, 91, 121, 152, 182, 213, 244, 274, 305, 335], "labelExpr": "timeFormat(datetime(2001, 0, datum.value), '%b')", "title": "Source: Wind, G7, UBS estimates", "titleX": -35, "titleY": 42}},
    "y": {"field": "value", "type": "quantitative", "scale": {"domain": [0, 160], "nice": false}, "axis": {"values": [0, 20, 40, 60, 80, 100, 120, 140, 160], "title": "Full-Truck-Load traffic index (7dma)", "titleX": -27, "titleY": -9}},
    "color": {"field": "year", "type": "nominal", "scale": {"domain": ["2020", "2021", "2022", "2023", "2024"], "range": ["#a6a6a6", "#22aaee", "#3ff03f", "#ffb300", "#ff1a1a"]},
     "legend": {"title": null, "orient": "none", "direction": "horizontal", "legendX": 78, "legendY": 112, "columns": 3, "columnPadding": 8, "rowPadding": 10, "symbolType": "M-1,0L4,0", "symbolSize": 121, "symbolStrokeWidth": 3, "labelOffset": 18.5}}
   }
  }
 ], "bounds": "flush", "spacing": 73, "resolve": {"scale": {"color": "independent"}, "legend": {"color": "independent"}}},
 {"hconcat": [
  {
   "width": 275, "height": 157,
   "title": {"text": ["Figure 6: 30-city property sales stayed subdued at -18%y/", "y in July from -20%y/y before"], "dx": -38, "offset": 15},
   "data": {"name": "prop"},
   "mark": {"type": "line", "strokeWidth": 1.8, "clip": true},
   "encoding": {
    "x": {"field": "day", "type": "quantitative", "scale": {"domain": [1, 365], "nice": false, "zero": false}, "axis": {"values": [1, 32, 60, 91, 121, 152, 182, 213, 244, 274, 305, 335], "labelExpr": "timeFormat(datetime(2001, 0, datum.value), '%b')", "title": "Source: Wind, UBS estimates", "titleX": -38, "titleY": 42}},
    "y": {"field": "value", "type": "quantitative", "scale": {"domain": [0, 100], "nice": false}, "axis": {"values": [0, 10, 20, 30, 40, 50, 60, 70, 80, 90, 100], "title": "30-city property sales (10k sqm, 7dma)", "titleX": -28, "titleY": -10}},
    "color": {"field": "year", "type": "nominal", "scale": {"domain": ["2019", "2020", "2021", "2022", "2023", "2024"], "range": ["#a9502f", "#22aaee", "#ffb300", "#10108a", "#3ff03f", "#ff1a1a"]},
     "legend": {"title": null, "orient": "none", "direction": "horizontal", "legendX": 15, "legendY": 1.5, "columns": 3, "columnPadding": 23.5, "rowPadding": 5, "symbolType": "M-1,0L4,0", "symbolSize": 121, "symbolStrokeWidth": 3, "labelOffset": 18.5}}
   }
  },
  {
   "width": 292, "height": 158,
   "title": {"text": ["Figure 7: Auto retail sales narrowed decline to -3%y/y in", "the first 28 days of July"], "dx": -27, "offset": 13},
   "layer": [
    {"data": {"name": "auto"},
     "mark": {"type": "bar", "size": 1.5, "clip": true},
     "encoding": {
      "x": {"field": "t", "type": "quantitative", "scale": {"domain": [2018.962, 2024.577], "nice": false, "zero": false}, "axis": {"values": [2019, 2020, 2021, 2022, 2023, 2024], "format": "d", "domain": false, "ticks": false, "labelPadding": 5, "title": "Source: CEIC, UBS estimates", "titleX": -27, "titleY": 40}},
      "y": {"field": "v", "type": "quantitative", "scale": {"domain": [-80, 80], "nice": false}, "axis": {"values": [-80, -60, -40, -20, 0, 20, 40, 60, 80], "title": "Growth (%y/y, 10-day)", "titleX": -19, "titleY": -12}},
      "color": {"datum": "Auto retail sales (PV) mtd", "type": "nominal", "scale": {"range": ["#66ee66"]},
       "legend": {"title": null, "orient": "none", "legendX": 62, "legendY": 126, "symbolType": "square", "symbolSize": 30, "labelOffset": 3}}
     }},
    {"data": {"values": [{}]}, "mark": {"type": "rule", "color": "#333333", "strokeWidth": 1},
     "encoding": {"y": {"datum": 0, "type": "quantitative", "axis": {"values": [-80, -60, -40, -20, 0, 20, 40, 60, 80], "title": "Growth (%y/y, 10-day)", "titleX": -19, "titleY": -12}}}}
   ]
  }
 ], "bounds": "flush", "spacing": 65, "resolve": {"scale": {"color": "independent"}, "legend": {"color": "independent"}}}
], "spacing": 33.5},
{
 "width": 657, "height": 22,
 "layer": [
  {"data": {"values": [{"a": "left", "b": "right", "top": 1}]},
   "mark": {"type": "rule", "color": "#333333", "strokeWidth": 1, "xOffset": -51, "x2Offset": 0},
   "encoding": {"x": {"field": "a", "type": "nominal", "scale": {"type": "point", "domain": ["left", "right"], "padding": 0}, "axis": null}, "x2": {"field": "b"}, "y": {"field": "top", "type": "quantitative", "scale": {"domain": [0, 1]}, "axis": null}}},
  {"data": {"values": [{"pos": "left", "label": "China Economic Comment"}]},
   "mark": {"type": "text", "align": "left", "baseline": "middle", "fontWeight": "bold", "fontSize": 10, "font": "Lato", "color": "#000000", "dx": -51},
   "encoding": {"x": {"field": "pos", "type": "nominal", "axis": null}, "text": {"field": "label"}}},
  {"data": {"values": [{"pos": "left", "label": "2 August 2024"}]},
   "mark": {"type": "text", "align": "left", "baseline": "middle", "fontSize": 10, "font": "Lato", "color": "#000000", "dx": 74},
   "encoding": {"x": {"field": "pos", "type": "nominal", "axis": null}, "text": {"field": "label"}}},
  {"data": {"values": [{"pos": "right", "label": "UBS"}]},
   "mark": {"type": "text", "align": "right", "baseline": "middle", "fontWeight": "bold", "fontSize": 11, "font": "DejaVu Serif", "color": "#000000", "dx": -12},
   "encoding": {"x": {"field": "pos", "type": "nominal", "axis": null}, "text": {"field": "label"}}},
  {"data": {"values": [{"pos": "right", "label": "3"}]},
   "mark": {"type": "text", "align": "right", "baseline": "middle", "fontSize": 10.5, "color": "#000000", "dx": -3},
   "encoding": {"x": {"field": "pos", "type": "nominal", "axis": null}, "text": {"field": "label"}}}
 ]
}
],
"spacing": 135
}
